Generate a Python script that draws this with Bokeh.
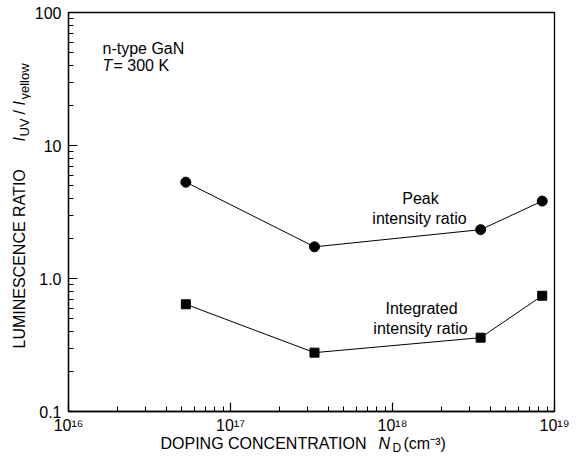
import math
from bokeh.plotting import figure
from bokeh.layouts import column, row
from bokeh.models import Label, FixedTicker, CustomJSTickFormatter
from bokeh.embed import file_html
from bokeh.resources import INLINE

# ---- data ----
doping = [5.3e16, 3.3e17, 3.5e18, 8.4e18]          # N_D (cm^-3)
peak_ratio = [5.3, 1.73, 2.33, 3.82]                 # peak intensity ratio
integrated_ratio = [0.64, 0.277, 0.359, 0.742]       # integrated intensity ratio

x_major = [1e16, 1e17, 1e18, 1e19]
y_major = [0.1, 1.0, 10.0, 100.0]
x_minor = [m * 10.0 ** e for e in range(16, 19) for m in range(2, 10)]
y_minor = [m * 10.0 ** e for e in range(-1, 2) for m in range(2, 10)]

FONT = "Liberation Sans"
LW = 31            # strip holding the y-axis title
MW, MH = 547, 436  # main plot
BH = 26            # strip holding the x-axis title

p = figure(width=MW, height=MH, x_axis_type="log", y_axis_type="log",
           x_range=(1e16, 1e19), y_range=(0.1, 100), title=None,
           output_backend="svg", toolbar_location=None,
           min_border_left=34, min_border_right=24, min_border_top=12, min_border_bottom=24)

p.xgrid.visible = False
p.ygrid.visible = False
p.outline_line_color = "black"
p.outline_line_width = 1.3
p.background_fill_color = "white"
p.border_fill_color = "white"

for ax in (p.xaxis[0], p.yaxis[0]):
    ax.axis_line_color = "black"
    ax.axis_line_width = 1.3
    ax.major_tick_in = 9
    ax.major_tick_out = 0
    ax.minor_tick_in = 5
    ax.minor_tick_out = 0
    ax.major_tick_line_color = "black"
    ax.minor_tick_line_color = "black"
    ax.major_tick_line_width = 1.2
    ax.minor_tick_line_width = 1
    ax.major_label_text_font = FONT
    ax.major_label_text_font_size = "16px"
    ax.major_label_text_color = "black"

p.xaxis[0].ticker = FixedTicker(ticks=x_major, minor_ticks=x_minor)
p.yaxis[0].ticker = FixedTicker(ticks=y_major, minor_ticks=y_minor)
p.xaxis[0].major_label_standoff = 5
p.yaxis[0].major_label_standoff = 7

p.xaxis[0].formatter = CustomJSTickFormatter(code="""
const s = {'0':'\u2070','1':'\u00b9','2':'\u00b2','3':'\u00b3','4':'\u2074',
           '5':'\u2075','6':'\u2076','7':'\u2077','8':'\u2078','9':'\u2079','-':'\u207b'};
const e = Math.round(Math.log10(tick));
return '10' + String(e).split('').map(c => s[c]).join('');
""")
p.yaxis[0].formatter = CustomJSTickFormatter(code="""
if (tick < 5) return tick.toFixed(1);
return tick.toFixed(0);
""")

# ---- series ----
p.line(doping, peak_ratio, line_color="black", line_width=1)
p.scatter(doping, peak_ratio, marker="circle", size=10, fill_color="black", line_color="black")
p.line(doping, integrated_ratio, line_color="black", line_width=1)
p.scatter(doping, integrated_ratio, marker="square", size=9, fill_color="black", line_color="black")


def lab(fig, text, cx, cy, size=16, align="left", style="normal", angle=0.0):
    fig.add_layout(Label(x=cx, y=cy, x_units="canvas", y_units="canvas",
                         text=text, text_font=FONT, text_font_size=f"{size}px",
                         text_align=align, text_baseline="middle", text_font_style=style,
                         angle=angle, text_color="black"))


# ---- texts inside the frame (main canvas starts LW px from the page left) ----
lab(p, "n-type GaN", 102 - LW, 48)
lab(p, "T", 102 - LW, 65, style="italic")
lab(p, "= 300 K", 113 - LW, 65)
lab(p, "Peak", 420 - LW, 198, align="center")
lab(p, "intensity ratio", 419 - LW, 218, align="center")
lab(p, "Integrated", 421 - LW, 308, align="center")
lab(p, "intensity ratio", 420 - LW, 328, align="center")


def strip(w, h):
    f = figure(width=w, height=h, x_range=(0, 1), y_range=(0, 1), title=None,
               output_backend="svg", toolbar_location=None,
               x_axis_location=None, y_axis_location=None, min_border=0)
    f.xgrid.visible = False
    f.ygrid.visible = False
    f.outline_line_color = None
    f.background_fill_color = "white"
    f.border_fill_color = "white"
    return f


# ---- y-axis title strip (rotated, with italic I and subscripts) ----
ly = strip(LW, MH)
A = math.pi / 2
lab(ly, "LUMINESCENCE  RATIO", 19, 348, angle=A)
lab(ly, "I", 19, 141, angle=A, style="italic")
lab(ly, "UV", 24, 136, size=13, angle=A)
lab(ly, "/", 19, 114, angle=A)
lab(ly, "I", 19, 105, angle=A, style="italic")
lab(ly, "yellow", 24, 99, size=13, angle=A)

# ---- x-axis title strip ----
lx = strip(LW + MW, BH)
lab(lx, "DOPING CONCENTRATION", 160, 443 - MH)
lab(lx, "N", 378, 443 - MH, style="italic")
lab(lx, "D", 392, 447 - MH, size=12)
lab(lx, "(cm\u207b\u00b3)", 403, 443 - MH)

layout = column(row(ly, p, spacing=0), lx, spacing=0)

open("out.html", "w").write(file_html(layout, INLINE))
